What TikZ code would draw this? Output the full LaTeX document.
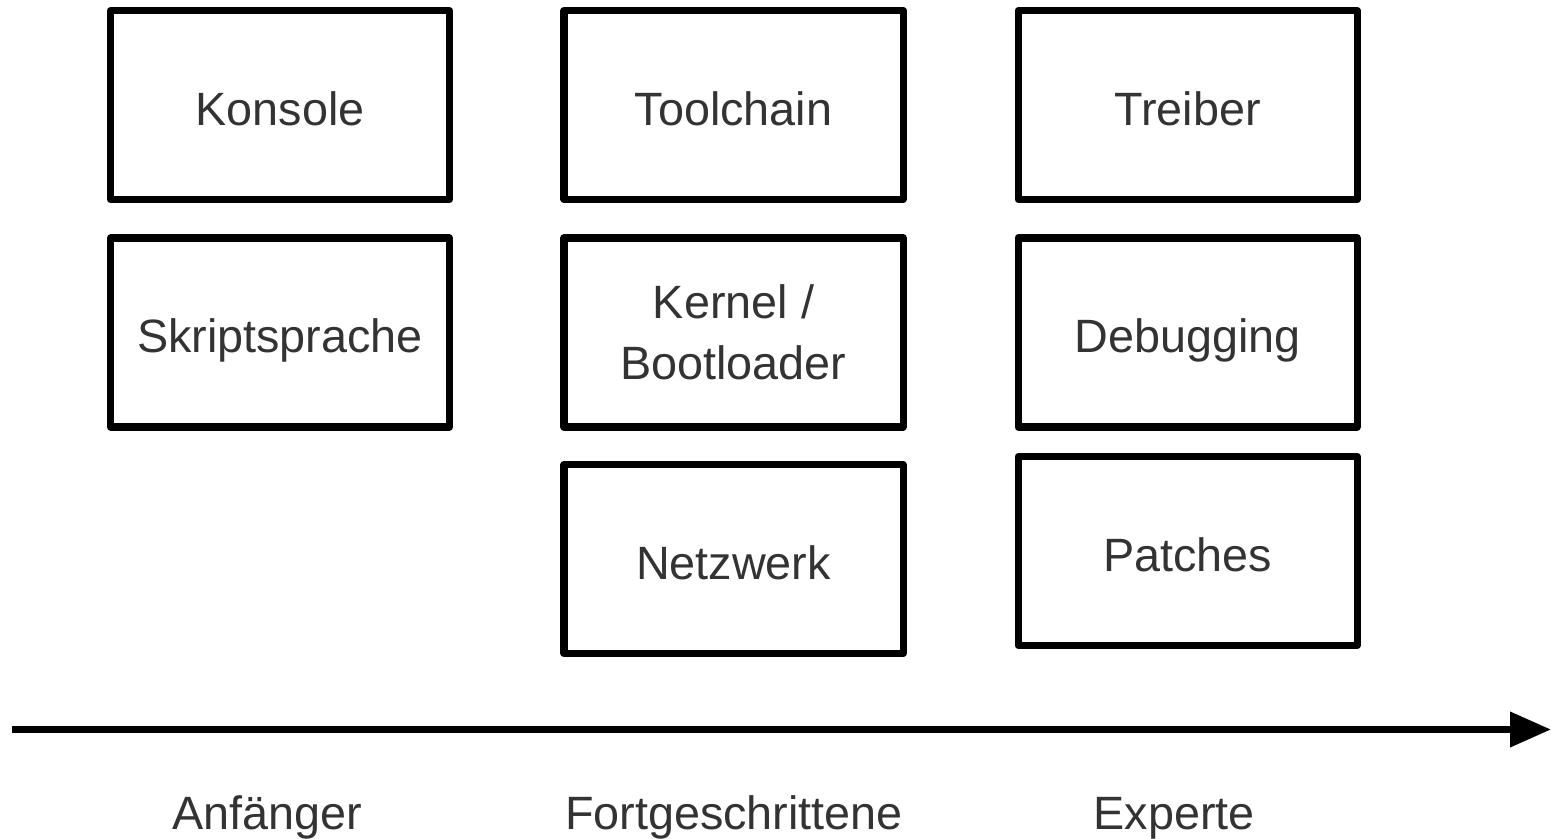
\documentclass[tikz,border=0pt]{standalone}
\usepackage{fontspec}
\setmainfont{Liberation Sans}
\usepackage{xcolor}
\usepackage{tikz}
\usetikzlibrary{arrows.meta}
\definecolor{inkGray}{RGB}{51,51,51}

\begin{document}
\begin{tikzpicture}[
  font=\fontsize{26.6pt}{34.7pt}\selectfont,
  topic/.style={draw=black, line width=4pt, line join=round,
              minimum width=6.78cm, minimum height=3.78cm, text=inkGray, inner sep=0pt},
  oneline/.style={topic, text height=26.6pt, text depth=3.7pt},
  twoline/.style={topic, align=center},
  level/.style={anchor=base, text=inkGray, inner sep=0pt},
  axis/.style={-{Triangle[length=8.2mm, width=6.8mm]}, line width=4pt}
]
\useasboundingbox (0,0) rectangle (31.04,-16.78);

\node[oneline] (konsole) at (5.6,-2.1)  {Konsole};
\node[oneline] (skript)  at (5.6,-6.65) {Skriptsprache};

\node[oneline] (toolchain) at (14.67,-2.1)  {Toolchain};
\node[twoline] (kernel)    at (14.67,-6.65) {Kernel /\\Bootloader};
\node[oneline] (netzwerk)  at (14.67,-11.18) {Netzwerk};

\node[oneline] (treiber)   at (23.75,-2.1)  {Treiber};
\node[oneline] (debugging) at (23.75,-6.65) {Debugging};
\node[oneline] (patches)   at (23.75,-11.02) {Patches};

\coordinate (axisStart) at (0.24,-14.59);
\coordinate (axisEnd)   at (31.02,-14.59);
\draw[axis] (axisStart) -- (axisEnd);

\node[level] (anf)  at (5.35,-16.58)  {Anfänger};
\node[level] (fort) at (14.68,-16.58) {Fortgeschrittene};
\node[level] (exp)  at (23.48,-16.58) {Experte};

\end{tikzpicture}
\end{document}
